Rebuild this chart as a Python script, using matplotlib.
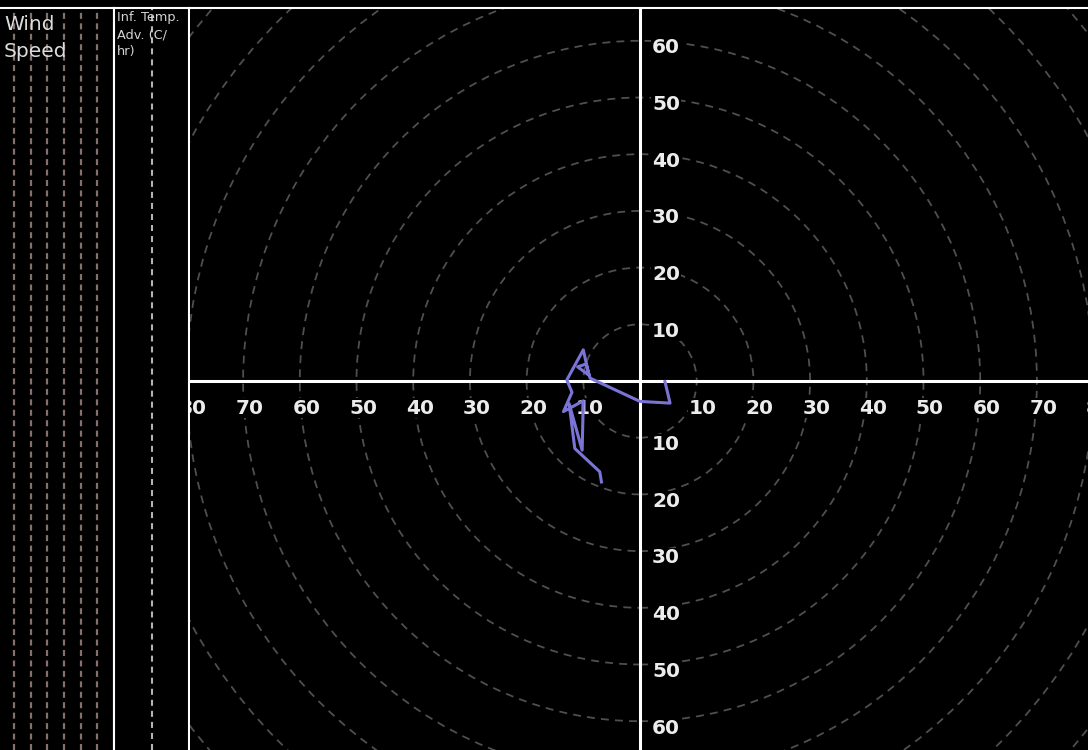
import matplotlib
matplotlib.use("Agg")
import matplotlib.pyplot as plt
from matplotlib.patches import Circle

# Hodograph trace (u, v components, knots)
u = [-6.8, -7.1, -11.5, -12.5, -10.2, -10.0, -13.5, -12.0, -12.9,
     -10.0, -9.0, -11.0, -9.5, -8.8, 0.0, 5.3, 4.4]
v = [-17.8, -16.0, -11.9, -4.0, -12.2, -3.5, -5.4, -2.0, 0.2,
     5.5, 1.0, 2.5, 3.0, 0.5, -3.6, -3.9, -0.1]

ring_speeds = list(range(10, 140, 10))
u_axis_labels = [10, 20, 30, 40, 50, 60, 70, 80]
v_axis_labels = [10, 20, 30, 40, 50, 60]
wind_speed_grid = [10, 20, 30, 40, 50, 60]
temp_adv_grid = [0]

W, H = 1088, 750
TOP = 8
fig = plt.figure(figsize=(W / 100, H / 100), dpi=100, facecolor="black")


def px_axes(x0, x1):
    return fig.add_axes([x0 / W, 0, (x1 - x0) / W, (H - TOP) / H])


def style(ax, left=False, right=False):
    ax.set_facecolor("black")
    ax.set_xticks([])
    ax.set_yticks([])
    for sp in ax.spines.values():
        sp.set_color("white")
        sp.set_linewidth(1.5)
    ax.spines["bottom"].set_visible(False)
    ax.spines["left"].set_visible(left)
    ax.spines["right"].set_visible(right)


# ---- wind speed strip ----
ax_ws = px_axes(0, 114)
style(ax_ws, right=True)
ax_ws.set_xlim(1.5, 70)
ax_ws.set_ylim(0, 1)
for s in wind_speed_grid:
    ax_ws.axvline(s, color="#86706c", lw=1.6, ls=(0, (2.7, 2.0)))
ax_ws.text(4 / 114, 1 - 7 / (H - TOP), "Wind\nSpeed", transform=ax_ws.transAxes,
           ha="left", va="top", color="#dcdcdc", fontsize=14.5, linespacing=1.55)

# ---- inferred temperature advection strip ----
ax_ta = px_axes(114, 189)
style(ax_ta, left=True, right=True)
ax_ta.set_xlim(-1, 1)
ax_ta.set_ylim(0, 1)
for t in temp_adv_grid:
    ax_ta.axvline(t, color="#b4b4b4", lw=1.5, ls=(0, (2.9, 2.4)))
ax_ta.text(3 / 75, 1 - 3 / (H - TOP), "Inf. Temp.\nAdv. (C/\nhr)", transform=ax_ta.transAxes,
           ha="left", va="top", color="#d4d4d4", fontsize=9.3, linespacing=1.4)

# ---- hodograph ----
scale = 5.67  # pixels per knot
cx, cy = 640, 381
ax = px_axes(190, W)
style(ax)
ax.set_xlim((190 - cx) / scale, (W - cx) / scale)
ax.set_ylim((cy - H) / scale, (cy - TOP) / scale)

for r in ring_speeds:
    ax.add_patch(Circle((0, 0), r, fill=False, ec="#4f4f4f", lw=1.3,
                        ls=(0, (4.4, 3.4))))

ax.axhline(0, color="white", lw=2.2, zorder=3)
ax.axvline(0, color="white", lw=2.2, zorder=3)

lab_kw = dict(ha="center", va="center", color="#ececec", fontsize=14.5,
              fontweight="bold", family="DejaVu Sans", zorder=4,
              bbox=dict(facecolor="black", edgecolor="none", pad=0.5))
for r in u_axis_labels:
    ax.text(r + 1.1, -4.8, str(r), clip_on=True, **lab_kw)
    ax.text(-r + 1.2, -4.8, str(r), clip_on=True, **lab_kw)
for r in v_axis_labels:
    ax.text(4.6, r - 1.2, str(r), clip_on=True, **lab_kw)
    ax.text(4.6, -r - 1.2, str(r), clip_on=True, **lab_kw)

ax.plot(u, v, color="#7a74d6", lw=2.2, solid_joinstyle="round", zorder=5)

fig.savefig("out.png", dpi=100, facecolor="black")
